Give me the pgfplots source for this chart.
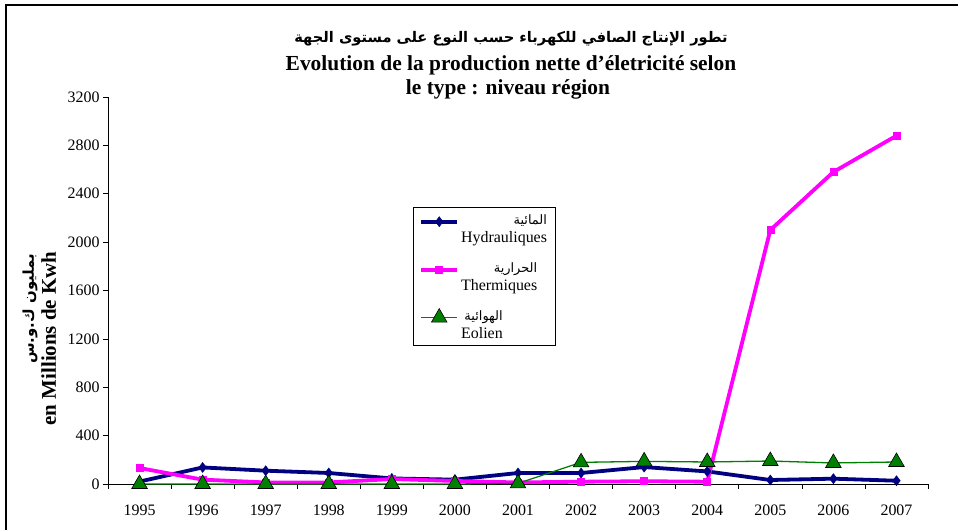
\documentclass[border=0pt]{standalone}
\usepackage{fontspec}
\setmainfont{Liberation Serif}
\newfontfamily\arabicfont[Script=Arabic]{DejaVu Sans}
\TeXXeTstate=1
\usepackage{pgfplots}
\pgfplotsset{compat=1.18}
\definecolor{hydro}{HTML}{000080}
\definecolor{therm}{HTML}{FF00FF}
\definecolor{eol}{HTML}{008000}
\begin{document}
\begin{tikzpicture}
\path[use as bounding box] (-108bp,-46bp) rectangle (850bp,484bp);
\draw[line width=2.5bp] (-102bp,-50bp) -- (-102bp,479bp) -- (860bp,479bp);
\begin{axis}[
  scale only axis, width=820bp, height=387bp,
  xmin=-0.5, xmax=12.5, ymin=0, ymax=3200,
  axis x line*=bottom, axis y line*=left,
  axis line style={-, line width=0.6bp},
  xtick={-0.5,0.5,...,12.5},
  x tick label as interval,
  xticklabels={1995,1996,1997,1998,1999,2000,2001,2002,2003,2004,2005,2006,2007},
  x tick label style={yshift=-12bp},
  ytick={0,400,...,3200},
  tick align=outside, major tick length=5bp,
  tick style={black, line width=0.6bp},
  tick label style={font=\fontsize{16}{18}\selectfont},
  /pgf/number format/assume math mode=true,
  /pgf/number format/1000 sep={},
  clip=false,
  legend image code/.code={\draw[mark repeat=2,mark phase=2,#1] plot coordinates {(0bp,21bp) (18bp,21bp) (36bp,21bp)};},
  legend style={at={(0.372,0.716)}, anchor=north west, draw=black, line width=0.6bp,
    font=\fontsize{16}{18}\selectfont, row sep=12bp, inner xsep=6bp, inner ysep=3bp,
    cells={anchor=base west}},
]
\addplot[color=hydro, line width=3.8bp, mark=diamond*, mark size=5bp, mark options={fill=hydro, line width=0.5bp}]
 coordinates {(0,20)(1,137)(2,110)(3,91)(4,46)(5,36)(6,91)(7,91)(8,140)(9,104)(10,33)(11,44)(12,27)};
\addlegendentry{\begin{tabular}[b]{@{}l@{}}\hfill{\arabicfont\fontsize{13}{15}\selectfont\beginR المائية\endR}\\Hydrauliques\end{tabular}}
\addplot[color=therm, line width=3.8bp, mark=square*, mark size=3.5bp, mark options={fill=therm, line width=0.5bp}]
 coordinates {(0,132)(1,36)(2,13)(3,13)(4,41)(5,25)(6,13)(7,19)(8,23)(9,19)(10,2100)(11,2580)(12,2880)};
\addlegendentry{\begin{tabular}[b]{@{}l@{}}\hfill{\arabicfont\fontsize{13}{15}\selectfont\beginR الحرارية\endR}\\Thermiques\end{tabular}}
\addplot[color=eol, line width=1.3bp, mark=triangle*, mark size=9bp, mark options={fill=eol, draw=black, line width=0.6bp}]
 coordinates {(0,0)(1,0)(2,0)(3,0)(4,0)(5,0)(6,5)(7,179)(8,187)(9,182)(10,190)(11,174)(12,182)};
\addlegendentry{\begin{tabular}[b]{@{}l@{}}\hfill{\arabicfont\fontsize{13}{15}\selectfont\beginR الهوائية\endR}\\Eolien\end{tabular}}
\end{axis}
\node[anchor=base, font=\arabicfont\bfseries\fontsize{14.7}{18}\selectfont] at (403bp,441bp) {\beginR تطور الإنتاج الصافي للكهرباء  حسب النوع على مستوى الجهة\endR};
\node[anchor=base, font=\bfseries\fontsize{21.5}{24}\selectfont] at (403bp,413bp) {Evolution de la production nette d'életricité selon};
\node[anchor=base, font=\bfseries\fontsize{21.5}{24}\selectfont] at (400bp,389bp) {le type : niveau région};
\node[rotate=90, anchor=base east, font=\bfseries\fontsize{21}{24}\selectfont] at (-52bp,236bp) {en Millions de Kwh};
\node[rotate=90, anchor=base east, font=\arabicfont\bfseries\fontsize{15}{18}\selectfont] at (-74bp,234bp) {\beginR بمليون ك.و.س\endR};
\end{tikzpicture}
\end{document}
